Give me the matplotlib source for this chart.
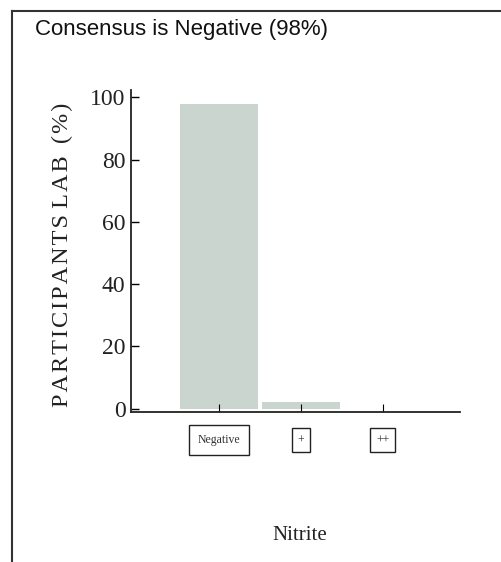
import matplotlib
matplotlib.use("Agg")
import matplotlib.pyplot as plt
from matplotlib.lines import Line2D

categories = ["Negative", "+", "++"]
percent = [98, 2, 0]
yticks = [0, 20, 40, 60, 80, 100]
title = "Consensus is Negative (98%)"
xlabel = "Nitrite"
ylabel_words = ["PARTICIPANTS", "LAB", "(%)"]

W, H = 502, 562
fig = plt.figure(figsize=(W / 100, H / 100), dpi=100)
fig.patch.set_facecolor("white")

# axes box in pixels: left 131, right 460, top 90, bottom 412
ax = fig.add_axes([131 / W, 1 - 412 / H, (460 - 131) / W, (412 - 90) / H])
x = list(range(len(categories)))
ax.bar(x, percent, width=0.95, color="#cbd5cf", edgecolor="none")

ax.set_xlim(-1.07, 2.94)
ax.set_ylim(-1.1, 102.4)
ax.spines["top"].set_visible(False)
ax.spines["right"].set_visible(False)
for s in ("left", "bottom"):
    ax.spines[s].set_linewidth(1.3)
    ax.spines[s].set_color("#222222")

ax.set_yticks(yticks)
ax.set_yticklabels([str(v) for v in yticks], family="Liberation Serif",
                   fontsize=17, color="#222222")
ax.tick_params(axis="y", direction="in", length=6, width=1, pad=4)
ax.set_xticks(x)
ax.set_xticklabels([])
ax.tick_params(axis="x", direction="in", length=6, width=0.8)

# boxed category labels under the axis
for xi, lab in zip(x, categories):
    pad = 0.75 if lab == "Negative" else 0.5
    ax.text(xi, -10.2, lab, ha="center", va="center", family="Liberation Serif",
            fontsize=8.5, color="#333333",
            bbox=dict(boxstyle=f"square,pad={pad}", fc="white", ec="#222222", lw=1),
            clip_on=False)

fig.text(300 / W, 1 - 535 / H, xlabel, ha="center", va="center",
         family="Liberation Serif", fontsize=15, color="#222222")
# letter-spaced y label
w = ["\u200a".join(word) for word in ylabel_words]
spaced = w[0] + " " + w[1] + "  " + w[2]
fig.text(62 / W, 1 - 255 / H, spaced, ha="center", va="center", rotation=90,
         family=["Liberation Serif", "DejaVu Serif"], fontsize=17.5, color="#222222")
fig.text(35 / W, 1 - 30 / H, title, ha="left", va="center",
         family="Liberation Sans", fontsize=16, color="#111111")

# page frame (top and left edges)
fig.add_artist(Line2D([12 / W, 1], [1 - 11 / H, 1 - 11 / H], color="#333333", lw=1.5))
fig.add_artist(Line2D([12 / W, 12 / W], [0, 1 - 11 / H], color="#333333", lw=1.5))

fig.savefig("out.png", dpi=100)
